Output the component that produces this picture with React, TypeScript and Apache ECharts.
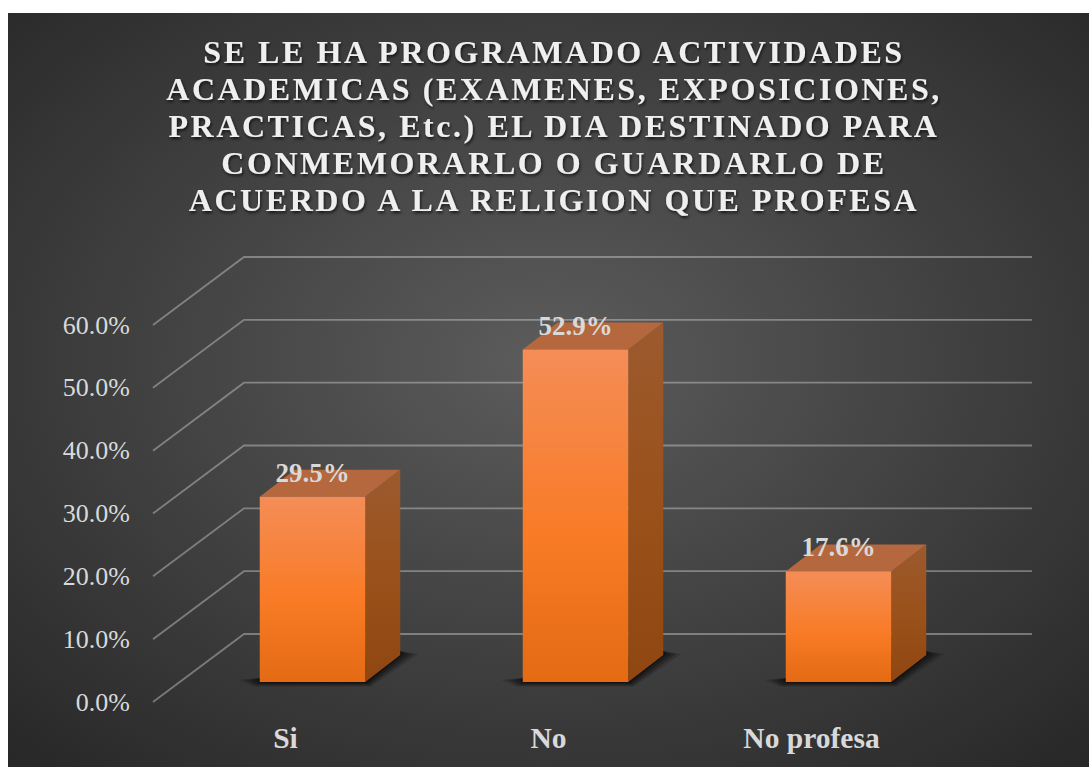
import React, { useEffect, useRef } from "react";
import * as echarts from "echarts";

const titleLines = [
  "SE LE HA PROGRAMADO ACTIVIDADES",
  "ACADEMICAS (EXAMENES, EXPOSICIONES,",
  "PRACTICAS, Etc.) EL DIA DESTINADO PARA",
  "CONMEMORARLO O GUARDARLO DE",
  "ACUERDO A LA RELIGION QUE PROFESA",
];
const categories = ["Si", "No", "No profesa"];
const values = [29.5, 52.9, 17.6];
const yTicks = [0, 10, 20, 30, 40, 50, 60];

const SERIF = "'Liberation Serif', 'Times New Roman', serif";
const TEXT = "#d9d9d9";
// 3D projection of the chart box, in pixels
const WALL_DX = 91;
const WALL_DY = 68;
const BAR_SHIFT_X = 27;
const BAR_SHIFT_Y = 20;
const BAR_W = 105.5;
const BAR_DX = 35;
const BAR_DY = 27;

const vGrad = (stops: [number, string][]) => ({
  type: "linear",
  x: 0,
  y: 0,
  x2: 0,
  y2: 1,
  colorStops: stops.map(([offset, color]) => ({ offset, color })),
});

export default function App() {
  const ref = useRef<HTMLDivElement>(null);
  useEffect(() => {
    const chart = echarts.init(ref.current!, undefined, { renderer: "svg" });
    chart.setOption({
      animation: false,
      graphic: [
        {
          type: "rect",
          z: -10,
          silent: true,
          shape: { x: 8, y: 13, width: 1081, height: 754 },
          style: {
            fill: {
              type: "radial",
              x: 0.5,
              y: 0.46,
              r: 0.72,
              colorStops: [
                { offset: 0, color: "#5c5c5c" },
                { offset: 1, color: "#282828" },
              ],
            },
          },
        },
      ],
      title: {
        text: titleLines.join("\n"),
        left: 549,
        top: 28,
        textAlign: "center",
        textStyle: {
          fontFamily: SERIF,
          fontSize: 32,
          fontWeight: "bold",
          color: "#efefef",
          lineHeight: 37,
          textShadowColor: "rgba(0,0,0,0.7)",
          textShadowBlur: 3,
          textShadowOffsetX: 1,
          textShadowOffsetY: 2,
        },
      },
      grid: { left: 154, top: 325, width: 789, height: 377 },
      xAxis: {
        type: "category",
        data: categories,
        axisLine: { show: false },
        axisTick: { show: false },
        splitLine: { show: false },
        axisLabel: {
          color: TEXT,
          fontFamily: SERIF,
          fontSize: 29.5,
          fontWeight: "bold",
          margin: 21,
        },
      },
      yAxis: {
        type: "value",
        min: 0,
        max: 60,
        interval: 10,
        axisLine: { show: false },
        axisTick: { show: false },
        splitLine: { show: false },
        axisLabel: {
          color: TEXT,
          fontFamily: SERIF,
          fontSize: 26,
          margin: 24,
          formatter: (v: number) => `${v.toFixed(1)}%`,
        },
      },
      series: [
        {
          type: "custom",
          z: 2,
          silent: true,
          data: yTicks.map((t) => [0, t]),
          encode: { x: 0, y: 1 },
          renderItem: (params: any, api: any) => {
            const y = api.coord([0, api.value(1)])[1];
            const g = params.coordSys;
            const x0 = g.x - 1;
            return {
              type: "polyline",
              shape: {
                points: [
                  [x0, y],
                  [x0 + WALL_DX, y - WALL_DY],
                  [x0 + WALL_DX + g.width - 1, y - WALL_DY],
                ],
              },
              style: { fill: "none", stroke: "rgba(217,217,217,0.42)", lineWidth: 1.8 },
            };
          },
        },
        {
          type: "custom",
          z: 3,
          silent: true,
          data: values.map((v, i) => [i, v]),
          encode: { x: 0, y: 1 },
          renderItem: (_params: any, api: any) => {
            const [cx, top0] = api.coord([api.value(0), api.value(1)]);
            const base0 = api.coord([api.value(0), 0])[1];
            const c = cx + BAR_SHIFT_X;
            const xL = c - BAR_W / 2;
            const xR = c + BAR_W / 2;
            const top = top0 - BAR_SHIFT_Y;
            const base = base0 - BAR_SHIFT_Y;
            const shadow = (grow: number, opacity: number) => ({
              type: "polygon",
              shape: {
                points: [
                  [xL - 3 - grow * 3, base - 2],
                  [xL - grow, base + 1 + grow * 0.6],
                  [xR + 2 + grow * 0.6, base + 1 + grow * 0.6],
                  [xR + BAR_DX + 3 + grow * 2.5, base - BAR_DY - 1],
                  [xR + BAR_DX, base - BAR_DY - 4],
                  [xL, base - 4],
                ],
              },
              style: { fill: "#0e0e0e", opacity },
            });
            return {
              type: "group",
              children: [
                shadow(6, 0.2),
                shadow(4, 0.3),
                shadow(2, 0.4),
                shadow(0, 0.7),
                {
                  type: "polygon",
                  shape: {
                    points: [
                      [xR, top],
                      [xR + BAR_DX, top - BAR_DY],
                      [xR + BAR_DX, base - BAR_DY],
                      [xR, base],
                    ],
                  },
                  style: {
                    fill: vGrad([
                      [0, "#9c5a2e"],
                      [0.55, "#9a5019"],
                      [1, "#8f4610"],
                    ]),
                  },
                },
                {
                  type: "polygon",
                  shape: {
                    points: [
                      [xL, top],
                      [xL + BAR_DX, top - BAR_DY],
                      [xR + BAR_DX, top - BAR_DY],
                      [xR, top],
                    ],
                  },
                  style: { fill: "#b5683e" },
                },
                {
                  type: "rect",
                  shape: { x: xL, y: top, width: BAR_W, height: base - top },
                  style: {
                    fill: vGrad([
                      [0, "#f48d57"],
                      [0.55, "#f97b26"],
                      [1, "#e46a14"],
                    ]),
                  },
                },
                {
                  type: "text",
                  style: {
                    x: c,
                    y: top - 24,
                    text: `${api.value(1).toFixed(1)}%`,
                    align: "center",
                    verticalAlign: "middle",
                    fill: TEXT,
                    font: `bold 27px ${SERIF}`,
                  },
                },
              ],
            };
          },
        },
      ],
    });
    // Letter spacing of the title has no ECharts option; apply it to its SVG text.
    ref.current!.querySelectorAll("text").forEach((t) => {
      if (titleLines.includes((t.textContent || "").trim())) {
        t.setAttribute("letter-spacing", "2.55");
      }
    });
    return () => chart.dispose();
  }, []);
  return (
    <div
      ref={ref}
      style={{ position: "fixed", left: 0, top: 0, width: 1089, height: 767, background: "#fff" }}
    />
  );
}
